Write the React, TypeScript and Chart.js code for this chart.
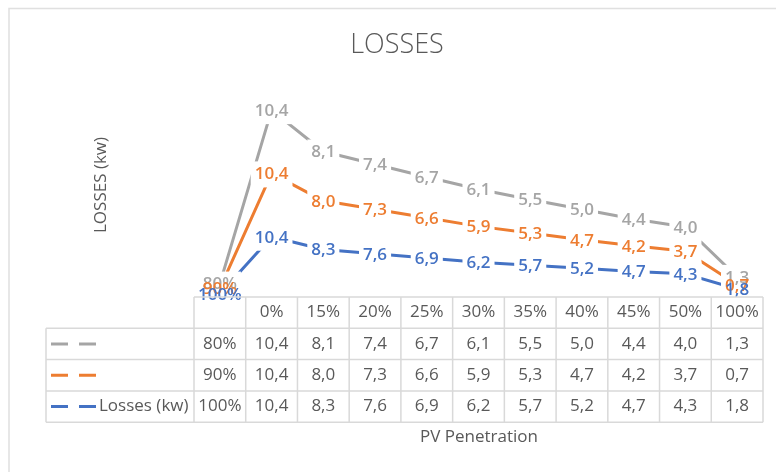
import React, { useEffect, useRef } from "react";
import { Chart, registerables } from "chart.js";

Chart.register(...registerables);

const categories = ["", "0%", "15%", "20%", "25%", "30%", "35%", "40%", "45%", "50%", "100%"];
const series80 = [0.8, 10.4, 8.1, 7.4, 6.7, 6.1, 5.5, 5.0, 4.4, 4.0, 1.3];
const series90 = [0.9, 10.4, 8.0, 7.3, 6.6, 5.9, 5.3, 4.7, 4.2, 3.7, 0.7];
const series100 = [1.0, 10.4, 8.3, 7.6, 6.9, 6.2, 5.7, 5.2, 4.7, 4.3, 1.8];
const seriesNames = ["", "", "Losses (kw)"];
const seriesColors = ["#A5A5A5", "#ED7D31", "#4472C4"];
const chartTitle = "LOSSES";
const yTitle = "LOSSES (kw)";
const xTitle = "PV Penetration";

const FONT = "'Open Sans', 'Noto Sans', sans-serif";
const TEXT = "#595959";
const GRID = "#D9D9D9";

function fmt(v: number, i: number): string {
  if (i === 0) return Math.round(v * 100) + "%";
  return v.toFixed(1).replace(".", ",");
}

export default function App() {
  const ref = useRef<HTMLCanvasElement>(null);

  useEffect(() => {
    const canvas = ref.current;
    if (!canvas) return;
    const rows = [series80, series90, series100];

    const bgPlugin = {
      id: "bgPlugin",
      beforeDraw(chart: any) {
        const ctx = chart.ctx;
        ctx.save();
        ctx.fillStyle = "#fff";
        ctx.fillRect(0, 0, chart.width, chart.height);
        ctx.strokeStyle = "#E0E0E0";
        ctx.lineWidth = 1.5;
        ctx.beginPath();
        ctx.moveTo(9, chart.height);
        ctx.lineTo(9, 8.5);
        ctx.lineTo(chart.width, 8.5);
        ctx.stroke();
        ctx.restore();
      },
    };

    const labelPlugin = {
      id: "labelPlugin",
      afterDatasetsDraw(chart: any) {
        const ctx = chart.ctx;
        ctx.save();
        ctx.font = `600 17px ${FONT}`;
        ctx.textAlign = "center";
        ctx.textBaseline = "middle";
        const items: any[] = [];
        for (let d = chart.data.datasets.length - 1; d >= 0; d--) {
          const meta = chart.getDatasetMeta(d);
          const ds = chart.data.datasets[d];
          meta.data.forEach((pt: any, i: number) => {
            const txt = fmt(ds.data[i], i);
            items.push({ x: pt.x, y: pt.y, txt, color: ds.borderColor });
          });
        }
        ctx.fillStyle = "#fff";
        items.forEach((it) => {
          const w = ctx.measureText(it.txt).width + 8;
          ctx.fillRect(it.x - w / 2, it.y - 12, w, 26);
        });
        items.forEach((it) => {
          ctx.fillStyle = it.color;
          ctx.fillText(it.txt, it.x, it.y + 1);
        });
        ctx.restore();
      },
    };

    const tablePlugin = {
      id: "tablePlugin",
      afterDraw(chart: any) {
        const ctx = chart.ctx;
        const xs = chart.scales.x;
        const area = chart.chartArea;
        const n = categories.length;
        const colW = (area.right - area.left) / n;
        const top = area.bottom - 3;
        const rowH = 31.3;
        const left = 46;
        const bottom = top + rowH * 4;
        ctx.save();
        ctx.strokeStyle = GRID;
        ctx.lineWidth = 1.5;
        ctx.beginPath();
        ctx.moveTo(area.left, top);
        ctx.lineTo(area.right, top);
        for (let r = 1; r <= 4; r++) {
          ctx.moveTo(left, top + rowH * r);
          ctx.lineTo(area.right, top + rowH * r);
        }
        ctx.moveTo(left, top + rowH);
        ctx.lineTo(left, bottom);
        for (let c = 0; c <= n; c++) {
          const x = area.left + colW * c;
          ctx.moveTo(x, top);
          ctx.lineTo(x, bottom);
        }
        ctx.stroke();

        ctx.font = `17px ${FONT}`;
        ctx.fillStyle = TEXT;
        ctx.textAlign = "center";
        ctx.textBaseline = "middle";
        categories.forEach((c, i) => {
          ctx.fillText(c, xs.getPixelForValue(i), top + rowH / 2);
        });
        rows.forEach((row, r) => {
          const cy = top + rowH * (r + 1) + rowH / 2;
          row.forEach((v, i) => {
            ctx.fillStyle = TEXT;
            ctx.fillText(fmt(v, i), xs.getPixelForValue(i), cy);
          });
          ctx.strokeStyle = seriesColors[r];
          ctx.lineWidth = 3;
          ctx.beginPath();
          ctx.moveTo(51, cy);
          ctx.lineTo(68, cy);
          ctx.moveTo(79, cy);
          ctx.lineTo(96, cy);
          ctx.stroke();
          if (seriesNames[r]) {
            ctx.textAlign = "left";
            ctx.fillStyle = TEXT;
            ctx.fillText(seriesNames[r], 99, cy);
            ctx.textAlign = "center";
          }
        });

        ctx.fillStyle = TEXT;
        ctx.font = `17px ${FONT}`;
        ctx.fillText(xTitle, 479, 437);
        ctx.font = `300 27px ${FONT}`;
        ctx.fillText(chartTitle, 397, 45);
        ctx.save();
        ctx.translate(101, 185);
        ctx.rotate(-Math.PI / 2);
        ctx.font = `17px ${FONT}`;
        ctx.fillText(yTitle, 0, 0);
        ctx.restore();
        ctx.restore();
      },
    };

    const chart = new Chart(canvas, {
      type: "line",
      data: {
        labels: categories,
        datasets: [
          { label: seriesNames[2], data: series100, borderColor: seriesColors[2], backgroundColor: seriesColors[2] },
          { label: seriesNames[1], data: series90, borderColor: seriesColors[1], backgroundColor: seriesColors[1] },
          { label: seriesNames[0], data: series80, borderColor: seriesColors[0], backgroundColor: seriesColors[0] },
        ],
      },
      options: {
        animation: false,
        responsive: false,
        devicePixelRatio: 1,
        layout: { padding: { left: 194, right: 13, top: 87, bottom: 172 } },
        elements: {
          point: { radius: 0, hoverRadius: 0 },
          line: { tension: 0, borderWidth: 3, borderCapStyle: "round", borderJoinStyle: "round" },
        },
        scales: {
          x: { display: false, offset: true },
          y: { display: false, stacked: true, min: 0, max: 35 },
        },
        plugins: {
          legend: { display: false },
          tooltip: { enabled: false },
          title: { display: false },
        },
      },
      plugins: [bgPlugin, labelPlugin, tablePlugin],
    });
    return () => chart.destroy();
  }, []);

  return (
    <div style={{ position: "fixed", left: 0, top: 0, width: 776, height: 472, background: "#fff" }}>
      <canvas ref={ref} width={776} height={472} style={{ width: 776, height: 472, display: "block" }} />
    </div>
  );
}
